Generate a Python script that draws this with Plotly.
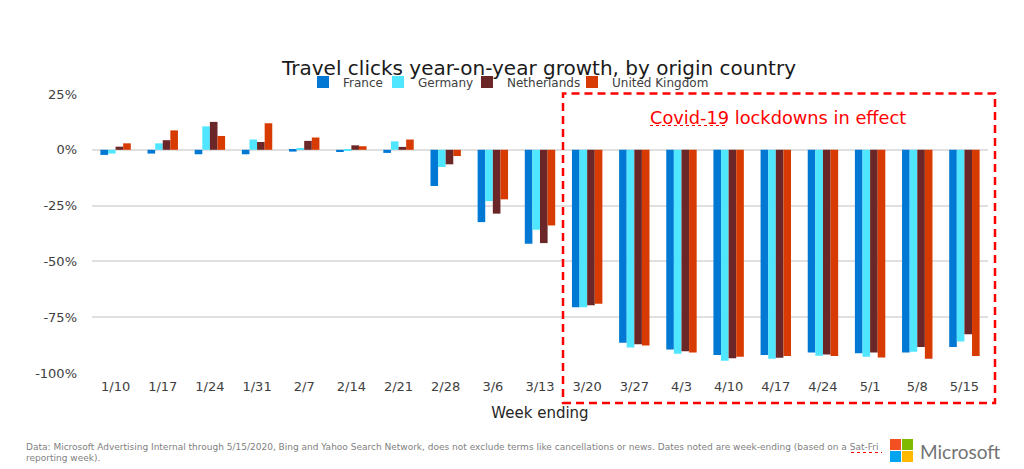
import plotly.graph_objects as go

weeks = ["1/10", "1/17", "1/24", "1/31", "2/7", "2/14", "2/21", "2/28", "3/6", "3/13",
         "3/20", "3/27", "4/3", "4/10", "4/17", "4/24", "5/1", "5/8", "5/15"]

france = [-2.3, -1.7, -2.0, -2.0, -0.8, -1.0, -1.4, -16.2, -32.4, -42.1,
          -70.5, -86.5, -89.5, -91.9, -91.9, -90.8, -91.1, -90.8, -88.3]
germany = [-1.7, 2.9, 10.5, 4.6, 0.5, -0.5, 3.8, -7.7, -23.0, -35.8,
           -70.5, -88.6, -91.4, -94.5, -93.6, -92.3, -92.7, -90.5, -85.9]
netherlands = [1.4, 4.3, 12.5, 3.5, 4.0, 2.0, 1.3, -6.5, -28.6, -41.8,
               -69.6, -87.1, -90.2, -93.4, -93.2, -91.7, -90.8, -88.3, -82.6]
united_kingdom = [2.9, 8.7, 6.2, 11.9, 5.5, 1.6, 4.6, -2.8, -22.2, -33.9,
                  -69.0, -87.7, -90.8, -92.7, -92.4, -92.4, -93.0, -93.6, -92.4]

series_names = ["France", "Germany", "Netherlands", "United Kingdom"]
series_colors = ["#0078D4", "#50E6FF", "#6B2727", "#D83B01"]
legend_widths = [30, 44, 60, None]

y_tickvals = [25, 0, -25, -50, -75, -100]
y_ticktext = ["25%", "0%", "-25%", "-50%", "-75%", "-100%"]

W, H = 1024, 469
L, R, T, B = 92, 36, 94, 96
PW, PH = W - L - R, H - T - B


def px(x):
    return (x - L) / PW


def py(y):
    return 1 - (y - T) / PH


fig = go.Figure()
for name, vals, col, lw in zip(series_names, [france, germany, netherlands, united_kingdom],
                               series_colors, legend_widths):
    kw = {}
    if lw is not None:
        kw["legendwidth"] = lw
    fig.add_trace(go.Bar(name=name, x=weeks, y=vals, marker=dict(color=col, line=dict(width=0)), **kw))

fig.update_layout(
    width=W, height=H,
    margin=dict(l=L, r=R, t=T, b=B),
    paper_bgcolor="white", plot_bgcolor="white",
    font=dict(family="DejaVu Sans, Verdana, sans-serif", color="#404040"),
    barmode="group", bargap=0.355, bargroupgap=0,
    title=dict(text="Travel clicks year-on-year growth, by origin country",
               x=539 / W, xanchor="center", y=1 - 68 / H, yanchor="middle",
               font=dict(size=20, color="#1a1a1a")),
    legend=dict(orientation="h", x=px(303), xanchor="left", y=py(82), yanchor="middle",
                font=dict(size=12, color="#404040"), bgcolor="rgba(0,0,0,0)",
                itemwidth=30, traceorder="normal"),
    showlegend=True,
)
fig.update_xaxes(showgrid=False, showline=False, ticks="", tickfont=dict(size=13, color="#404040"),
                 ticklabelstandoff=4,
                 title=dict(text="Week ending", font=dict(size=15, color="#262626"), standoff=14))
fig.update_yaxes(range=[-100, 25], tickvals=y_tickvals, ticktext=y_ticktext,
                 showgrid=True, gridcolor="#E0E0E0", gridwidth=1.5, zeroline=True,
                 zerolinecolor="#E0E0E0", zerolinewidth=1.5, showline=False,
                 tickfont=dict(size=13, color="#404040"), ticks="", ticklabelstandoff=14)

# Lockdown box
fig.add_shape(type="rect", xref="paper", yref="paper",
              x0=px(563), x1=px(995), y0=py(403), y1=py(93.5),
              line=dict(color="#FF0000", width=2.5, dash="8px,5px"), layer="above")
fig.add_annotation(text="Covid-19 lockdowns in effect", xref="paper", yref="paper",
                   x=px(778), y=py(117), xanchor="center", yanchor="middle", showarrow=False,
                   font=dict(size=17.8, color="#FF0000"))
fig.add_shape(type="line", xref="paper", yref="paper", x0=px(650), x1=px(728), y0=py(125.5), y1=py(125.5),
              line=dict(color="#FF0000", width=1.2, dash="dot"))

# Footer
fig.add_annotation(text="Data: Microsoft Advertising Internal through 5/15/2020, Bing and Yahoo Search Network, does not exclude terms like cancellations or news. Dates noted are week-ending (based on a Sat-Fri",
                   xref="paper", yref="paper", x=px(24), y=py(447), xanchor="left", yanchor="middle",
                   showarrow=False, font=dict(size=9, color="#7F7F7F"))
fig.add_annotation(text="reporting week).",
                   xref="paper", yref="paper", x=px(24), y=py(458), xanchor="left", yanchor="middle",
                   showarrow=False, font=dict(size=9, color="#7F7F7F"))
fig.add_shape(type="line", xref="paper", yref="paper", x0=px(851), x1=px(882), y0=py(452.5), y1=py(452.5),
              line=dict(color="#FF0000", width=1, dash="dot"))

# Microsoft logo
sq = 11
gap = 1
x0, y0 = 890, 439
logo_cols = [["#F25022", "#7FBA00"], ["#00A4EF", "#FFB900"]]
for r in range(2):
    for c in range(2):
        xa = x0 + c * (sq + gap)
        ya = y0 + r * (sq + gap)
        fig.add_shape(type="rect", xref="paper", yref="paper",
                      x0=px(xa), x1=px(xa + sq), y0=py(ya + sq), y1=py(ya),
                      line=dict(width=0), fillcolor=logo_cols[r][c])
fig.add_annotation(text="Microsoft", xref="paper", yref="paper", x=px(918), y=py(451),
                   xanchor="left", yanchor="middle", showarrow=False,
                   font=dict(size=19, color="#737373", family="Lato, Open Sans, sans-serif"))

fig.write_html("out.html")
